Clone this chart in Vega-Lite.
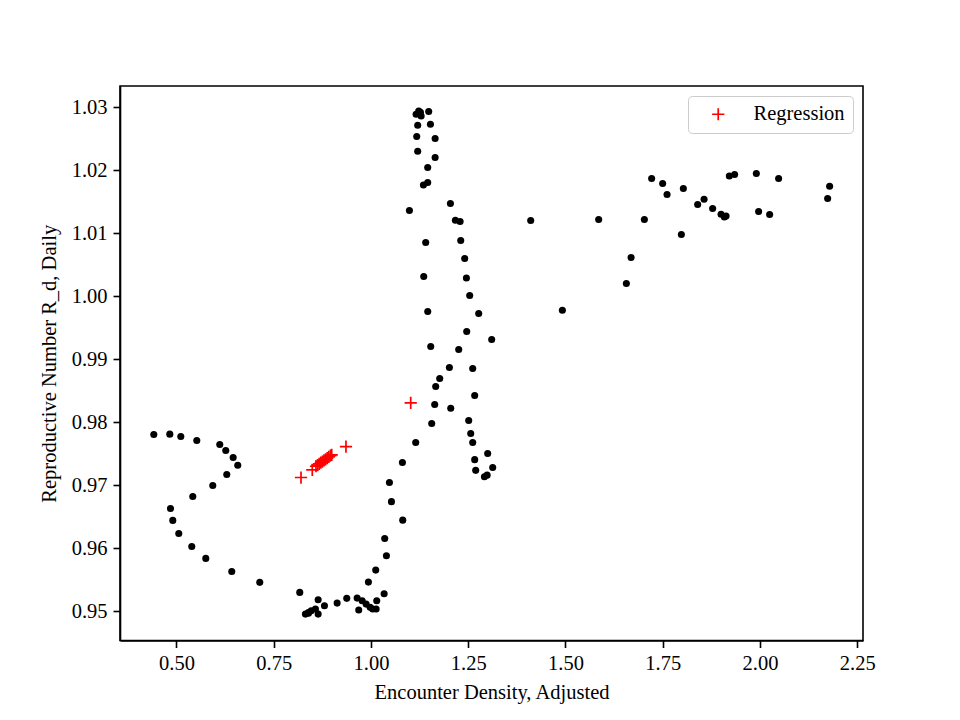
{
  "$schema": "https://vega.github.io/schema/vega-lite/v6.json",
  "width": 743,
  "height": 554.5,
  "autosize": {"type": "none"},
  "padding": {"left": 120, "top": 86, "right": 97, "bottom": 79.5},
  "background": "white",
  "config": {
    "view": {"stroke": "black", "strokeWidth": 1.6},
    "axis": {
      "grid": false,
      "domainColor": "black",
      "domainWidth": 1.6,
      "tickColor": "black",
      "tickWidth": 1.6,
      "tickSize": 7,
      "labelFont": "Liberation Serif",
      "labelFontSize": 20.5,
      "labelColor": "black",
      "labelPadding": 6,
      "titleFont": "Liberation Serif",
      "titleFontSize": 20.5,
      "titleFontWeight": "normal",
      "titleColor": "black"
    }
  },
  "datasets": {
    "points": [
      {"x": 0.4417, "y": 0.97805}, {"x": 0.4828, "y": 0.9781}, {"x": 0.5111, "y": 0.97773}, {"x": 0.5522, "y": 0.9771},
      {"x": 0.6113, "y": 0.97646}, {"x": 0.6267, "y": 0.97551}, {"x": 0.6457, "y": 0.9744}, {"x": 0.6575, "y": 0.97317},
      {"x": 0.6293, "y": 0.9717}, {"x": 0.5933, "y": 0.96995}, {"x": 0.5419, "y": 0.96821}, {"x": 0.4846, "y": 0.9663},
      {"x": 0.4905, "y": 0.9644}, {"x": 0.5059, "y": 0.96233}, {"x": 0.5393, "y": 0.96027}, {"x": 0.5753, "y": 0.95837},
      {"x": 0.6421, "y": 0.9563}, {"x": 0.7141, "y": 0.95456}, {"x": 0.8169, "y": 0.95297},
      {"x": 0.8315, "y": 0.94952}, {"x": 0.8392, "y": 0.94976}, {"x": 0.8462, "y": 0.95005}, {"x": 0.8572, "y": 0.95032},
      {"x": 0.8642, "y": 0.94952}, {"x": 0.8642, "y": 0.95179}, {"x": 0.8804, "y": 0.95084}, {"x": 0.8392, "y": 0.94965},
      {"x": 0.913, "y": 0.95127}, {"x": 0.9377, "y": 0.95202}, {"x": 0.9644, "y": 0.95206}, {"x": 0.9685, "y": 0.95016},
      {"x": 0.9773, "y": 0.95163}, {"x": 0.9875, "y": 0.95111}, {"x": 0.9978, "y": 0.95059}, {"x": 1.0045, "y": 0.95032},
      {"x": 1.0132, "y": 0.95032}, {"x": 1.0148, "y": 0.95163}, {"x": 1.0338, "y": 0.95275}, {"x": 0.9934, "y": 0.9546},
      {"x": 1.0122, "y": 0.95651}, {"x": 1.0397, "y": 0.95878}, {"x": 1.0353, "y": 0.96154}, {"x": 1.0816, "y": 0.96444},
      {"x": 1.0526, "y": 0.96738}, {"x": 1.0474, "y": 0.97043}, {"x": 1.0808, "y": 0.9736}, {"x": 1.115, "y": 0.97678},
      {"x": 1.2564, "y": 0.97821}, {"x": 1.2615, "y": 0.97678}, {"x": 1.3, "y": 0.97503}, {"x": 1.2666, "y": 0.97405},
      {"x": 1.3129, "y": 0.97281}, {"x": 1.2692, "y": 0.97235}, {"x": 1.2916, "y": 0.97132}, {"x": 1.2985, "y": 0.97159},
      {"x": 1.2512, "y": 0.98027}, {"x": 1.2666, "y": 0.98424}, {"x": 1.205, "y": 0.98222}, {"x": 1.1638, "y": 0.98281},
      {"x": 1.1561, "y": 0.97979}, {"x": 1.1664, "y": 0.98567}, {"x": 1.1767, "y": 0.98694}, {"x": 1.2016, "y": 0.98868},
      {"x": 1.2615, "y": 0.98852}, {"x": 1.2255, "y": 0.99154}, {"x": 1.1536, "y": 0.99202}, {"x": 1.3103, "y": 0.99313},
      {"x": 1.2461, "y": 0.9944}, {"x": 1.2769, "y": 0.99725}, {"x": 1.1459, "y": 0.99757}, {"x": 1.2538, "y": 1.00011},
      {"x": 1.1356, "y": 1.00313}, {"x": 1.2453, "y": 1.0029}, {"x": 1.2409, "y": 1.00598}, {"x": 1.1407, "y": 1.00852},
      {"x": 1.2307, "y": 1.00884}, {"x": 1.217, "y": 1.01206}, {"x": 1.2291, "y": 1.01186}, {"x": 1.2042, "y": 1.01471},
      {"x": 1.0988, "y": 1.0136}, {"x": 1.1348, "y": 1.01767}, {"x": 1.1458, "y": 1.01805}, {"x": 1.1458, "y": 1.02043},
      {"x": 1.1649, "y": 1.02202}, {"x": 1.1201, "y": 1.02302}, {"x": 1.1649, "y": 1.02503}, {"x": 1.1176, "y": 1.02535},
      {"x": 1.1528, "y": 1.0273}, {"x": 1.1201, "y": 1.02714}, {"x": 1.116, "y": 1.02889}, {"x": 1.1227, "y": 1.02941},
      {"x": 1.1289, "y": 1.02862}, {"x": 1.1484, "y": 1.02932}, {"x": 1.1271, "y": 1.02921},
      {"x": 1.4106, "y": 1.01202}, {"x": 1.492, "y": 0.99778}, {"x": 1.5853, "y": 1.01217}, {"x": 1.6565, "y": 1.00202},
      {"x": 1.6686, "y": 1.00614}, {"x": 1.7028, "y": 1.01217}, {"x": 1.7215, "y": 1.01868}, {"x": 1.7498, "y": 1.01789},
      {"x": 1.7611, "y": 1.01614}, {"x": 1.7979, "y": 1.00979}, {"x": 1.803, "y": 1.0171}, {"x": 1.8398, "y": 1.01456},
      {"x": 1.8562, "y": 1.0154}, {"x": 1.8783, "y": 1.01392}, {"x": 1.8999, "y": 1.01302}, {"x": 1.9084, "y": 1.01259},
      {"x": 1.9128, "y": 1.01275}, {"x": 1.9212, "y": 1.0191}, {"x": 1.9348, "y": 1.01932}, {"x": 1.9906, "y": 1.01948},
      {"x": 1.9965, "y": 1.01344}, {"x": 2.0248, "y": 1.01297}, {"x": 2.0479, "y": 1.01868}, {"x": 2.179, "y": 1.01746},
      {"x": 2.1739, "y": 1.01551}
    ],
    "regression": [
      {"x": 0.8201, "y": 0.97121, "series": "Regression"},
      {"x": 0.8491, "y": 0.97243, "series": "Regression"},
      {"x": 0.8586, "y": 0.973, "series": "Regression"},
      {"x": 0.8627, "y": 0.97319, "series": "Regression"},
      {"x": 0.8668, "y": 0.97337, "series": "Regression"},
      {"x": 0.871, "y": 0.97356, "series": "Regression"},
      {"x": 0.8751, "y": 0.97375, "series": "Regression"},
      {"x": 0.8792, "y": 0.97392, "series": "Regression"},
      {"x": 0.8833, "y": 0.97411, "series": "Regression"},
      {"x": 0.8874, "y": 0.9743, "series": "Regression"},
      {"x": 0.8915, "y": 0.97448, "series": "Regression"},
      {"x": 0.8956, "y": 0.97467, "series": "Regression"},
      {"x": 0.899, "y": 0.97481, "series": "Regression"},
      {"x": 0.9357, "y": 0.97613, "series": "Regression"},
      {"x": 1.1021, "y": 0.98306, "series": "Regression"}
    ]
  },
  "layer": [
    {
      "data": {"name": "points"},
      "mark": {"type": "circle", "color": "black", "size": 50, "opacity": 1},
      "encoding": {
        "x": {
          "field": "x", "type": "quantitative",
          "scale": {"domain": [0.3548, 2.2648], "nice": false, "zero": false},
          "axis": {"title": "Encounter Density, Adjusted", "values": [0.5, 0.75, 1.0, 1.25, 1.5, 1.75, 2.0, 2.25], "format": ".2f", "titlePadding": 8}
        },
        "y": {
          "field": "y", "type": "quantitative",
          "scale": {"domain": [0.94533, 1.03338], "nice": false, "zero": false},
          "axis": {"title": "Reproductive Number R_d, Daily", "values": [0.95, 0.96, 0.97, 0.98, 0.99, 1.0, 1.01, 1.02, 1.03], "format": ".2f", "titlePadding": 12}
        }
      }
    },
    {
      "data": {"name": "regression"},
      "mark": {"type": "point", "shape": "M-1,0L1,0M0,-1L0,1", "filled": false, "size": 150, "strokeWidth": 1.7, "opacity": 1},
      "encoding": {
        "x": {"field": "x", "type": "quantitative"},
        "y": {"field": "y", "type": "quantitative"},
        "stroke": {
          "field": "series", "type": "nominal",
          "scale": {"domain": ["Regression"], "range": ["#ff0000"]},
          "legend": {
            "title": null,
            "orient": "top-right",
            "offset": 10,
            "fillColor": "white",
            "strokeColor": "#cccccc",
            "cornerRadius": 4,
            "padding": 8,
            "symbolType": "M-1,0L1,0M0,-1L0,1",
            "symbolSize": 150,
            "symbolStrokeWidth": 1.7,
            "symbolOffset": 12,
            "labelOffset": 25,
            "labelFont": "Liberation Serif",
            "labelFontSize": 20.5,
            "labelColor": "black"
          }
        }
      }
    }
  ]
}
